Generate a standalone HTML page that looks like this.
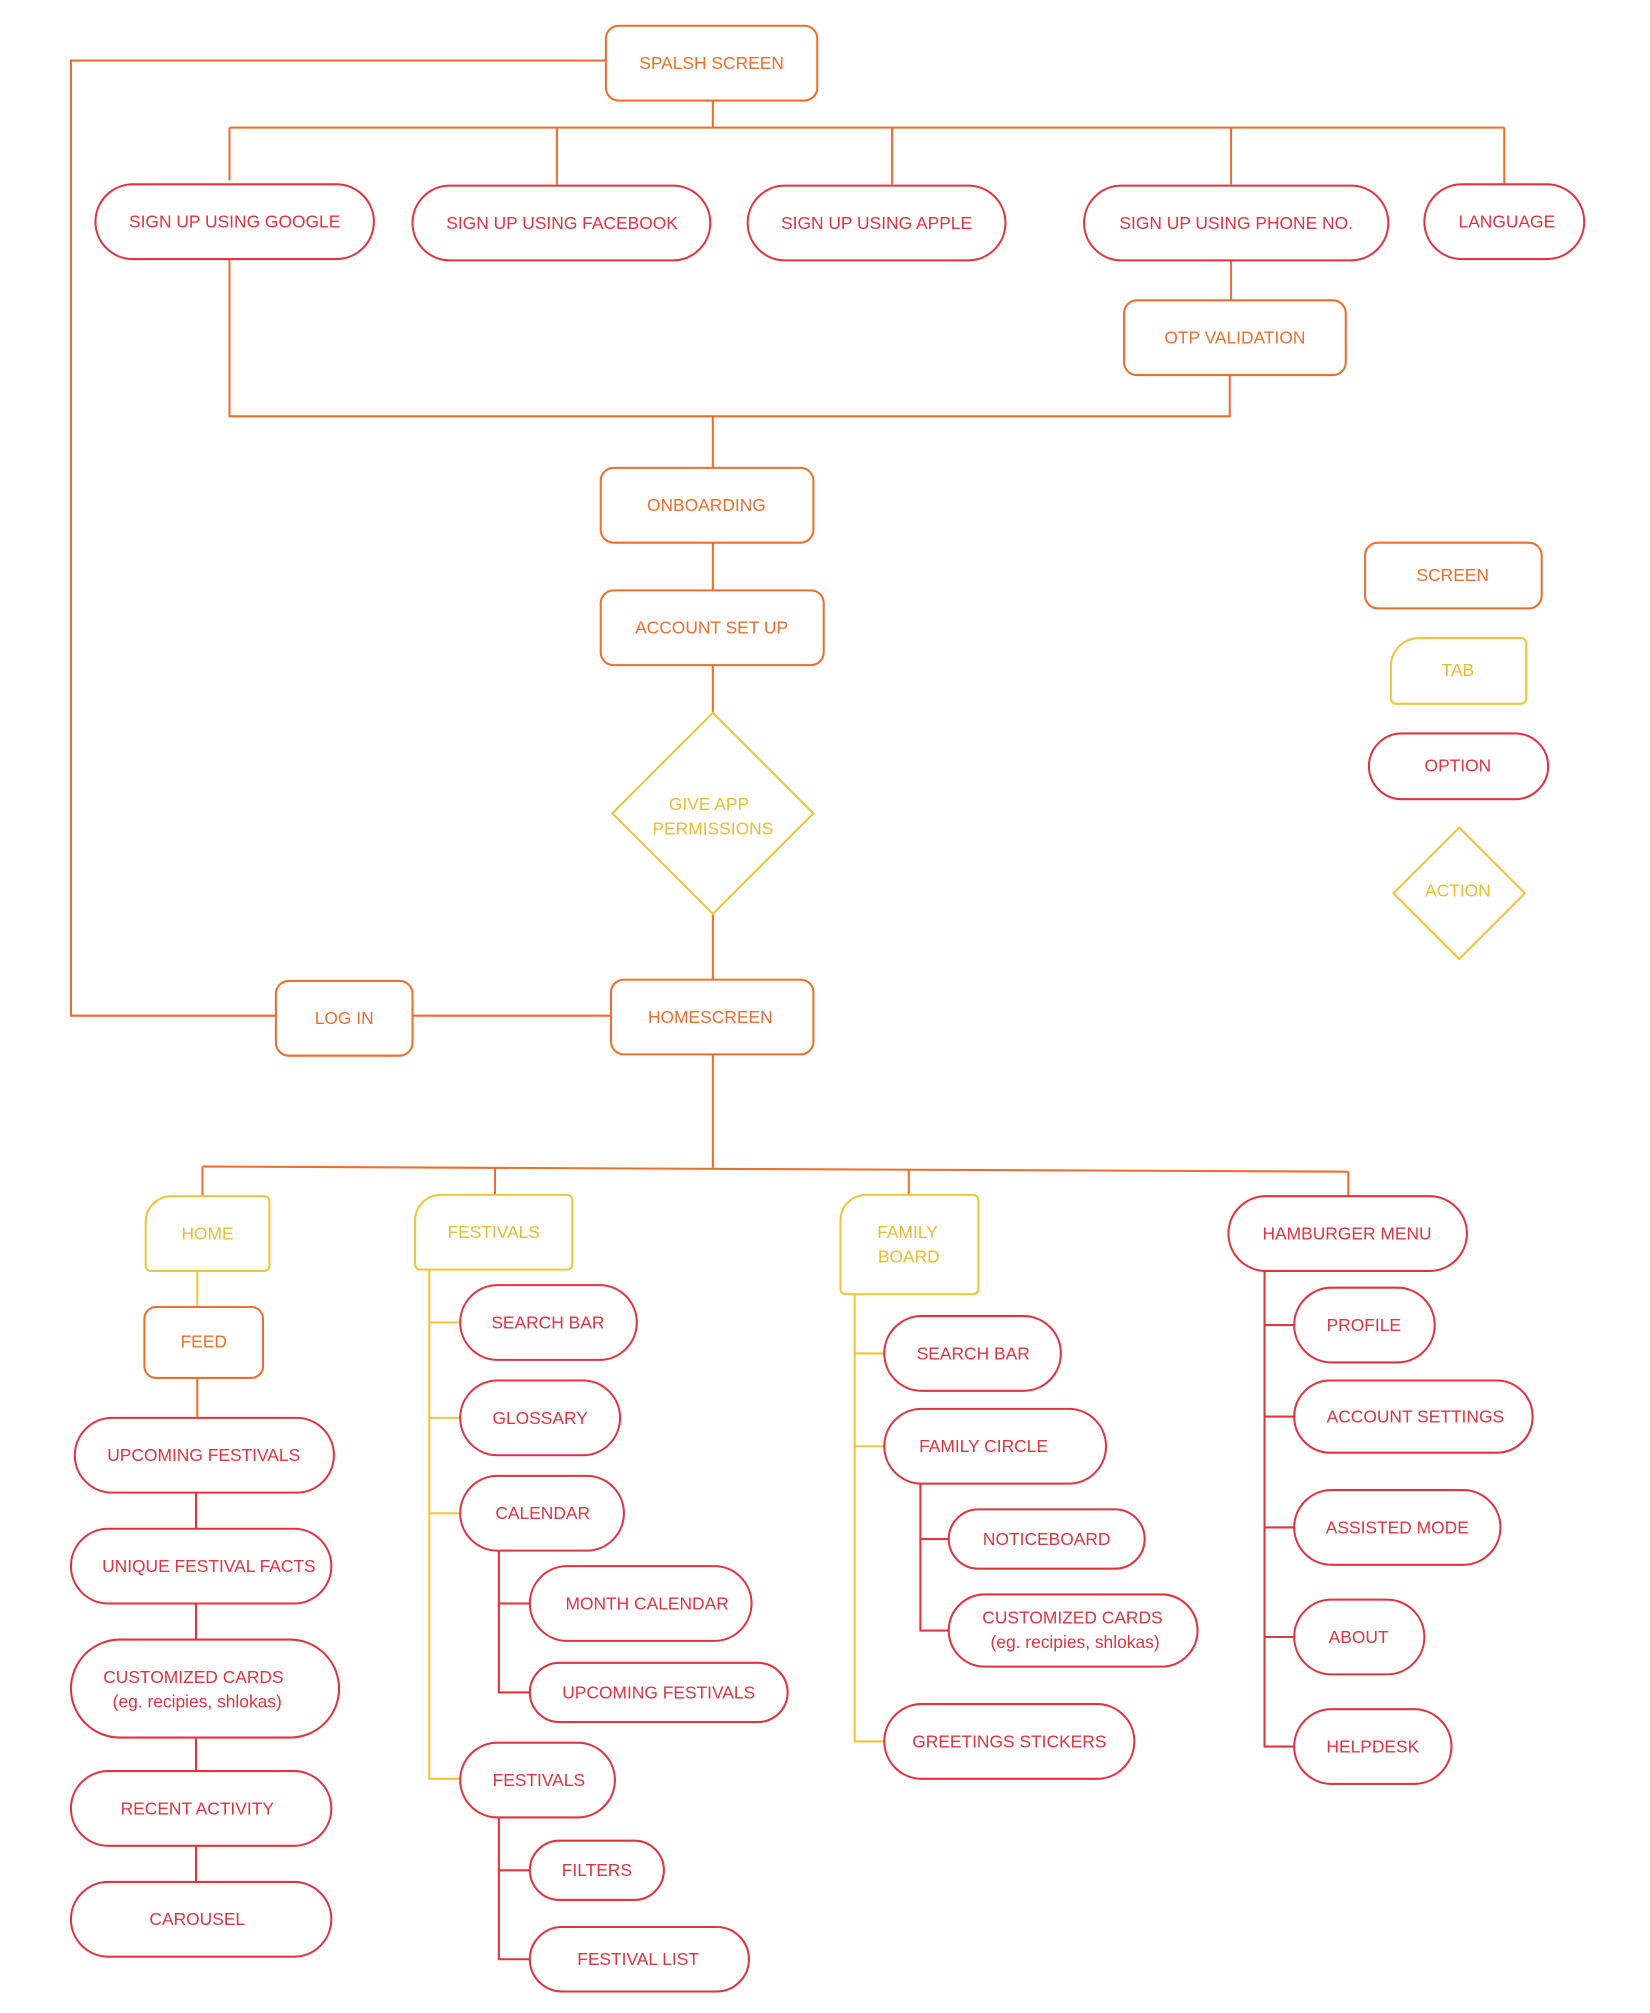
<!DOCTYPE html>
<html><head><meta charset="utf-8"><style>
html,body{margin:0;padding:0;background:#fff}
svg{display:block}
text{font-family:"Liberation Sans",sans-serif;font-size:13.5px;text-anchor:middle;dominant-baseline:middle}
.o{fill:none;stroke:#EC6F2D;stroke-width:1.6}
.r{fill:none;stroke:#E0343F;stroke-width:1.6}
.y{fill:none;stroke:#F0C43C;stroke-width:1.6}
.to{fill:#EC6F2D}.tr{fill:#E0343F}.ty{fill:#E9BC32}
</style></head><body>
<svg width="1650" height="2013" viewBox="0 0 1280 1561.7" xmlns="http://www.w3.org/2000/svg">
<!-- orange connectors -->
<g class="o">
<polyline points="470,47 55,47 55,788 214,788"/>
<line x1="553" y1="78" x2="553" y2="99"/>
<line x1="178" y1="99" x2="1167" y2="99"/>
<line x1="178" y1="99" x2="178" y2="140"/>
<line x1="432" y1="99" x2="432" y2="143"/>
<line x1="692" y1="99" x2="692" y2="143"/>
<line x1="955" y1="99" x2="955" y2="143"/>
<line x1="1167" y1="99" x2="1167" y2="143"/>
<line x1="955" y1="202" x2="955" y2="233"/>
<polyline points="178,201 178,323 954,323 954,291"/>
<line x1="553" y1="323" x2="553" y2="363"/>
<line x1="553" y1="421" x2="553" y2="458"/>
<line x1="553" y1="516" x2="553" y2="553"/>
<line x1="553" y1="709" x2="553" y2="760"/>
<line x1="320" y1="788" x2="474" y2="788"/>
<line x1="553" y1="818" x2="553" y2="906"/>
<line x1="157" y1="905" x2="1046" y2="909"/>
<line x1="157" y1="905" x2="157" y2="928"/>
<line x1="384" y1="906" x2="384" y2="927"/>
<line x1="705" y1="907" x2="705" y2="927"/>
<line x1="1046" y1="909" x2="1046" y2="928"/>
<line x1="153" y1="1069" x2="153" y2="1100"/>
</g>
<g class="r">
<line x1="152" y1="1158" x2="152" y2="1186"/>
<line x1="152" y1="1244" x2="152" y2="1272"/>
<line x1="152" y1="1348" x2="152" y2="1374"/>
<line x1="152" y1="1432" x2="152" y2="1460"/>
<polyline points="387,1203 387,1313 411,1313"/><line x1="387" y1="1244" x2="411" y2="1244"/>
<polyline points="387,1410 387,1520 411,1520"/><line x1="387" y1="1451" x2="411" y2="1451"/>
<polyline points="714,1151 714,1265 736,1265"/><line x1="714" y1="1194" x2="736" y2="1194"/>
<polyline points="981,986 981,1355 1004,1355"/>
<line x1="981" y1="1028" x2="1004" y2="1028"/>
<line x1="981" y1="1099" x2="1004" y2="1099"/>
<line x1="981" y1="1185" x2="1004" y2="1185"/>
<line x1="981" y1="1270" x2="1004" y2="1270"/>
</g>
<g class="y">
<line x1="153" y1="986" x2="153" y2="1014"/>
<polyline points="333,985 333,1380 357,1380"/>
<line x1="333" y1="1026" x2="357" y2="1026"/>
<line x1="333" y1="1100" x2="357" y2="1100"/>
<line x1="333" y1="1174" x2="357" y2="1174"/>
<polyline points="663,1004 663,1351 686,1351"/>
<line x1="663" y1="1050" x2="686" y2="1050"/>
<line x1="663" y1="1122" x2="686" y2="1122"/>
</g>
<!-- screens -->
<g class="o">
<rect x="470" y="20" width="164" height="58" rx="10"/>
<rect x="872" y="233" width="172" height="58" rx="10"/>
<rect x="466" y="363" width="165" height="58" rx="10"/>
<rect x="466" y="458" width="173" height="58" rx="10"/>
<rect x="474" y="760" width="157" height="58" rx="10"/>
<rect x="214" y="761" width="106" height="58" rx="10"/>
<rect x="112" y="1014" width="92" height="55" rx="9"/>
<rect x="1059" y="421" width="137" height="51" rx="10"/>
</g>
<g class="to">
<text x="552" y="50">SPALSH SCREEN</text>
<text x="958" y="263">OTP VALIDATION</text>
<text x="548" y="393">ONBOARDING</text>
<text x="552" y="488">ACCOUNT SET UP</text>
<text x="551" y="790">HOMESCREEN</text>
<text x="267" y="791">LOG IN</text>
<text x="158" y="1042">FEED</text>
<text x="1127" y="447">SCREEN</text>
</g>
<!-- tabs -->
<g class="y">
<path d="M133,928 H205 a4,4 0 0 1 4,4 V982 a4,4 0 0 1 -4,4 H117 a4,4 0 0 1 -4,-4 V948 a20,20 0 0 1 20,-20Z"/>
<path d="M342,927 H440 a4,4 0 0 1 4,4 V981 a4,4 0 0 1 -4,4 H326 a4,4 0 0 1 -4,-4 V947 a20,20 0 0 1 20,-20Z"/>
<path d="M672,927 H755 a4,4 0 0 1 4,4 V1000 a4,4 0 0 1 -4,4 H656 a4,4 0 0 1 -4,-4 V947 a20,20 0 0 1 20,-20Z"/>
<path d="M1101,495 H1180 a4,4 0 0 1 4,4 V542 a4,4 0 0 1 -4,4 H1083 a4,4 0 0 1 -4,-4 V517 a22,22 0 0 1 22,-22Z"/>
<polygon points="553,553 631,631 553,709 475,631"/>
<polygon points="1132,642 1183,693 1132,744 1081,693"/>
</g>
<g class="ty">
<text x="161" y="958">HOME</text>
<text x="383" y="957">FESTIVALS</text>
<text x="704" y="957">FAMILY</text><text x="705" y="976">BOARD</text>
<text x="1131" y="521">TAB</text>
<text x="550" y="625">GIVE APP</text><text x="553" y="644">PERMISSIONS</text>
<text x="1131" y="692">ACTION</text>
</g>
<!-- options -->
<g class="r">
<rect x="74" y="143" width="216" height="58" rx="29"/>
<rect x="320" y="144" width="231" height="58" rx="29"/>
<rect x="580" y="144" width="200" height="58" rx="29"/>
<rect x="841" y="144" width="236" height="58" rx="29"/>
<rect x="1105" y="143" width="124" height="58" rx="29"/>
<rect x="1062" y="569" width="139" height="51" rx="25.5"/>
<rect x="58" y="1100" width="201" height="58" rx="29"/>
<rect x="55" y="1186" width="202" height="58" rx="29"/>
<rect x="55" y="1272" width="208" height="76" rx="38"/>
<rect x="55" y="1374" width="202" height="58" rx="29"/>
<rect x="55" y="1460" width="202" height="58" rx="29"/>
<rect x="357" y="997" width="137" height="58" rx="29"/>
<rect x="357" y="1071" width="124" height="58" rx="29"/>
<rect x="357" y="1145" width="127" height="58" rx="29"/>
<rect x="411" y="1215" width="172" height="58" rx="29"/>
<rect x="411" y="1290" width="200" height="46" rx="23"/>
<rect x="357" y="1352" width="120" height="58" rx="29"/>
<rect x="411" y="1428" width="104" height="46" rx="23"/>
<rect x="411" y="1495" width="170" height="50" rx="25"/>
<rect x="686" y="1021" width="137" height="58" rx="29"/>
<rect x="686" y="1093" width="172" height="58" rx="29"/>
<rect x="736" y="1171" width="152" height="46" rx="23"/>
<rect x="736" y="1237" width="193" height="56" rx="28"/>
<rect x="686" y="1322" width="194" height="58" rx="29"/>
<rect x="953" y="928" width="185" height="58" rx="29"/>
<rect x="1004" y="999" width="109" height="58" rx="29"/>
<rect x="1004" y="1071" width="185" height="56" rx="28"/>
<rect x="1004" y="1156" width="160" height="58" rx="29"/>
<rect x="1004" y="1241" width="101" height="58" rx="29"/>
<rect x="1004" y="1326" width="122" height="58" rx="29"/>
</g>
<g class="tr">
<text x="182" y="173">SIGN UP USING GOOGLE</text>
<text x="436" y="174">SIGN UP USING FACEBOOK</text>
<text x="680" y="174">SIGN UP USING APPLE</text>
<text x="959" y="174">SIGN UP USING PHONE NO.</text>
<text x="1169" y="173">LANGUAGE</text>
<text x="1131" y="595">OPTION</text>
<text x="158" y="1130">UPCOMING FESTIVALS</text>
<text x="162" y="1216">UNIQUE FESTIVAL FACTS</text>
<text x="150" y="1302">CUSTOMIZED CARDS</text>
<text x="153" y="1321">(eg. recipies, shlokas)</text>
<text x="153" y="1404">RECENT ACTIVITY</text>
<text x="153" y="1490">CAROUSEL</text>
<text x="425" y="1027">SEARCH BAR</text>
<text x="419" y="1101">GLOSSARY</text>
<text x="421" y="1175">CALENDAR</text>
<text x="502" y="1245">MONTH CALENDAR</text>
<text x="511" y="1314">UPCOMING FESTIVALS</text>
<text x="418" y="1382">FESTIVALS</text>
<text x="463" y="1452">FILTERS</text>
<text x="495" y="1521">FESTIVAL LIST</text>
<text x="755" y="1051">SEARCH BAR</text>
<text x="763" y="1123">FAMILY CIRCLE</text>
<text x="812" y="1195">NOTICEBOARD</text>
<text x="832" y="1256">CUSTOMIZED CARDS</text>
<text x="834" y="1275">(eg. recipies, shlokas)</text>
<text x="783" y="1352">GREETINGS STICKERS</text>
<text x="1045" y="958">HAMBURGER MENU</text>
<text x="1058" y="1029">PROFILE</text>
<text x="1098" y="1100">ACCOUNT SETTINGS</text>
<text x="1084" y="1186">ASSISTED MODE</text>
<text x="1054" y="1271">ABOUT</text>
<text x="1065" y="1356">HELPDESK</text>
</g>
</svg>
</body></html>
